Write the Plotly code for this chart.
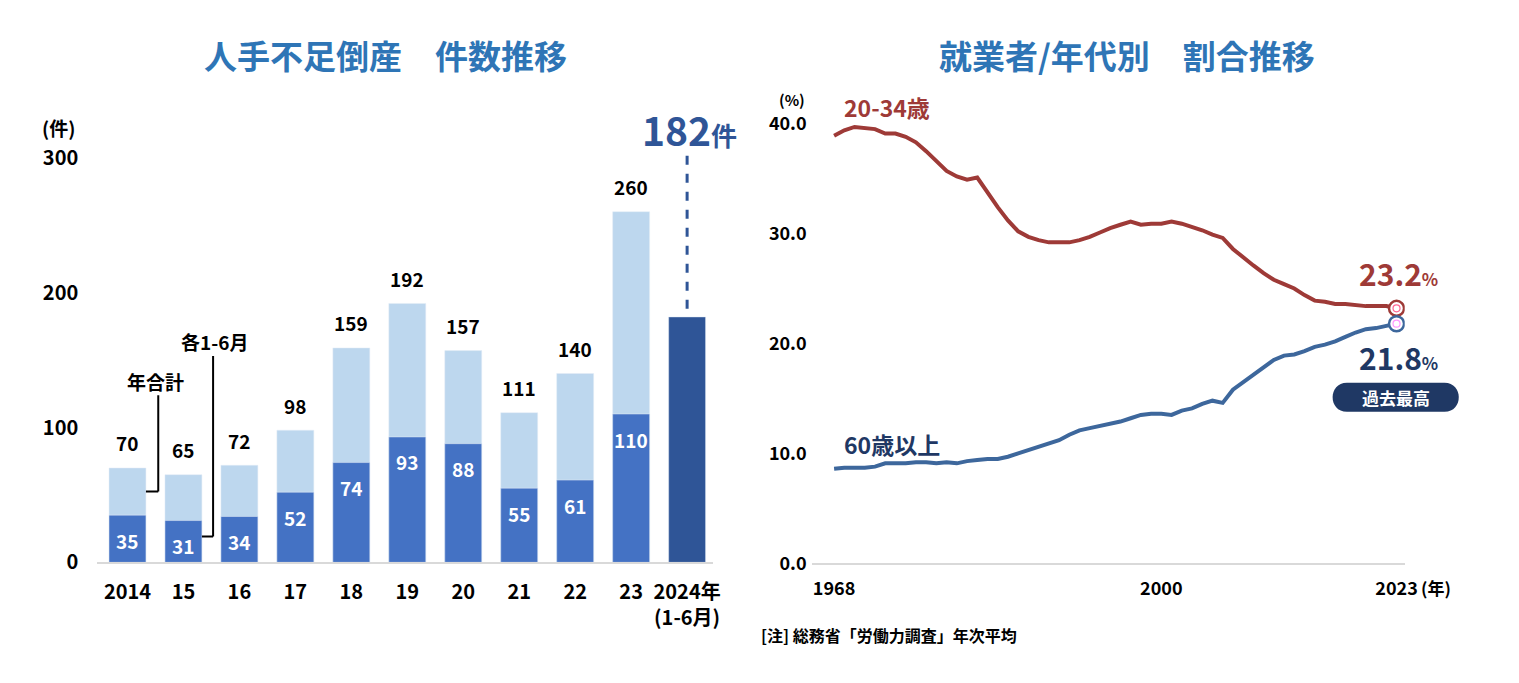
import plotly.graph_objects as go

# ---------------- data ----------------
bar_labels = ["2014", "15", "16", "17", "18", "19", "20", "21", "22", "23", "2024年<br>(1-6月)"]
year_totals = [70, 65, 72, 98, 159, 192, 157, 111, 140, 260]          # 2014-2023 年合計
first_half = [35, 31, 34, 52, 74, 93, 88, 55, 61, 110, 182]           # 各1-6月 (last = 2024)
left_yticks = [0, 100, 200, 300]

years = list(range(1968, 2024))
age_20_34 = [38.9, 39.4, 39.7, 39.6, 39.5, 39.1, 39.1, 38.8, 38.3, 37.5,
             36.6, 35.7, 35.2, 34.9, 35.1, 33.7, 32.4, 31.2, 30.2, 29.7,
             29.4, 29.2, 29.2, 29.2, 29.4, 29.7, 30.1, 30.5, 30.8, 31.1,
             30.8, 30.9, 30.9, 31.1, 30.9, 30.6, 30.3, 29.9, 29.6, 28.6,
             27.8, 27.1, 26.4, 25.8, 25.4, 25.0, 24.4, 23.9, 23.8, 23.6,
             23.6, 23.5, 23.4, 23.4, 23.4, 23.2]
age_60_plus = [8.6, 8.7, 8.7, 8.7, 8.8, 9.1, 9.1, 9.1, 9.2, 9.2,
               9.1, 9.2, 9.1, 9.3, 9.4, 9.5, 9.5, 9.7, 10.0, 10.3,
               10.6, 10.9, 11.2, 11.7, 12.1, 12.3, 12.5, 12.7, 12.9, 13.2,
               13.5, 13.6, 13.6, 13.5, 13.9, 14.1, 14.5, 14.8, 14.6, 15.8,
               16.5, 17.1, 17.9, 18.5, 18.9, 19.0, 19.3, 19.7, 19.9, 20.2,
               20.6, 21.0, 21.3, 21.4, 21.6, 21.8]
right_yticks = [0, 10, 20, 30, 40]
right_xticks = [1968, 2000, 2023]

# ---------------- style ----------------
W, H = 1519, 683
OFF = 8                              # page body margin
SX, SY = W / (W + 2 * OFF), H / (H + 2 * OFF)   # page is fitted into the window
FONT = "Noto Sans CJK JP"
TITLE_BLUE = "#2E75B6"
LIGHT = "#BDD7EE"
MID = "#4472C4"
NAVY_BAR = "#2F5597"
RED = "#9E3A37"
BLUE_LINE = "#3D679C"
NAVY_TXT = "#1F3864"


def px(x):
    return (x / SX - OFF) / W


def py(y):
    return 1 - (y / SY - OFF) / H


def paper_text(x, y, text, size, color, xanchor="center"):
    return dict(xref="paper", yref="paper", x=px(x), y=py(y), xanchor=xanchor, yanchor="middle",
                text=text, showarrow=False, font=dict(size=size, color=color, family=FONT))


fig = go.Figure()

n_hist = len(year_totals)
fig.add_trace(go.Bar(x=bar_labels[:n_hist], y=year_totals, marker_color=LIGHT,
                     width=0.66, xaxis="x", yaxis="y", showlegend=False, hoverinfo="skip"))
fig.add_trace(go.Bar(x=bar_labels[:n_hist], y=first_half[:n_hist], marker_color=MID,
                     width=0.66, xaxis="x", yaxis="y", showlegend=False, hoverinfo="skip"))
fig.add_trace(go.Bar(x=bar_labels[n_hist:], y=first_half[n_hist:], marker_color=NAVY_BAR,
                     width=0.66, xaxis="x", yaxis="y", showlegend=False, hoverinfo="skip"))

fig.add_trace(go.Scatter(x=years, y=age_20_34, mode="lines", line=dict(color=RED, width=4),
                         xaxis="x2", yaxis="y2", showlegend=False, hoverinfo="skip"))
fig.add_trace(go.Scatter(x=years, y=age_60_plus, mode="lines", line=dict(color=BLUE_LINE, width=4),
                         xaxis="x2", yaxis="y2", showlegend=False, hoverinfo="skip"))
for series, col in ((age_20_34, RED), (age_60_plus, BLUE_LINE)):
    fig.add_trace(go.Scatter(x=[years[-1]], y=[series[-1]], mode="markers",
                             marker=dict(symbol="circle", size=15, color="white",
                                         line=dict(color=col, width=2.5)),
                             xaxis="x2", yaxis="y2", showlegend=False, hoverinfo="skip"))
    fig.add_trace(go.Scatter(x=[years[-1]], y=[series[-1]], mode="markers",
                             marker=dict(symbol="circle-open", size=7,
                                         line=dict(color=col, width=1.2)),
                             xaxis="x2", yaxis="y2", showlegend=False, hoverinfo="skip"))

annotations = []
shapes = []

# titles
annotations.append(paper_text(385, 55, "<b>人手不足倒産　件数推移</b>", 33, TITLE_BLUE))
annotations.append(paper_text(1125, 55, "<b>就業者/年代別　割合推移</b>", 33, TITLE_BLUE))

# bar labels
for i, t in enumerate(year_totals):
    annotations.append(dict(xref="x", yref="y", x=i, y=t, yshift=25, text=f"<b>{t}</b>",
                            showarrow=False, font=dict(size=19, color="#000000", family=FONT)))
for i, v in enumerate(first_half[:n_hist]):
    annotations.append(dict(xref="x", yref="y", x=i, y=v, yshift=-25, text=f"<b>{v}</b>",
                            showarrow=False, font=dict(size=19, color="white", family=FONT)))

# 2024 callout
last_i = len(first_half) - 1
shapes.append(dict(type="line", xref="x", yref="y", x0=last_i, x1=last_i, y0=first_half[-1] + 6, y1=306,
                   line=dict(color=NAVY_BAR, width=3, dash="dash")))
annotations.append(dict(xref="x", yref="y", x=last_i, y=321, xshift=2,
                        text=f"<b>{first_half[-1]}<span style='font-size:26px'>件</span></b>",
                        showarrow=False, font=dict(size=39, color=NAVY_BAR, family=FONT)))

# leader lines
mid0 = (year_totals[0] + first_half[0]) / 2
shapes.append(dict(type="line", xref="x", yref="y", x0=0.33, x1=0.55, y0=mid0, y1=mid0,
                   line=dict(color="black", width=2)))
shapes.append(dict(type="line", xref="x", yref="y", x0=0.55, x1=0.55, y0=mid0, y1=124,
                   line=dict(color="black", width=2)))
annotations.append(dict(xref="x", yref="y", x=0.5, y=134, text="<b>年合計</b>", showarrow=False,
                        font=dict(size=19, color="black", family=FONT)))
mid1 = first_half[1] * 0.62
shapes.append(dict(type="line", xref="x", yref="y", x0=1.33, x1=1.53, y0=mid1, y1=mid1,
                   line=dict(color="black", width=2)))
shapes.append(dict(type="line", xref="x", yref="y", x0=1.53, x1=1.53, y0=mid1, y1=153,
                   line=dict(color="black", width=2)))
annotations.append(dict(xref="x", yref="y", x=1.55, y=164, text="<b>各1-6月</b>", showarrow=False,
                        font=dict(size=19, color="black", family=FONT)))

# unit labels
annotations.append(paper_text(58, 127, "<b>(件)</b>", 19, "black"))
annotations.append(paper_text(790, 99, "<b>(%)</b>", 15, "black"))
annotations.append(paper_text(1416, 585, "<b>(年)</b>", 17, "black", xanchor="left"))

# line labels
annotations.append(dict(xref="x2", yref="y2", x=1968.8, y=41.5, xanchor="left", text="<b>20-34歳</b>",
                        showarrow=False, font=dict(size=23, color=RED, family=FONT)))
annotations.append(dict(xref="x2", yref="y2", x=1968.8, y=10.9, xanchor="left", text="<b>60歳以上</b>",
                        showarrow=False, font=dict(size=23, color=NAVY_TXT, family=FONT)))
annotations.append(dict(xref="x2", yref="y2", x=years[-1], y=age_20_34[-1], yshift=35, xshift=2,
                        text=f"<b>{age_20_34[-1]:.1f}<span style='font-size:17px'>%</span></b>",
                        showarrow=False, font=dict(size=30, color=RED, family=FONT)))
annotations.append(dict(xref="x2", yref="y2", x=years[-1], y=age_60_plus[-1], yshift=-33, xshift=2,
                        text=f"<b>{age_60_plus[-1]:.1f}<span style='font-size:17px'>%</span></b>",
                        showarrow=False, font=dict(size=30, color=NAVY_TXT, family=FONT)))

# pill "過去最高"
x0, x1, yt, yb = px(1330), px(1456), py(381), py(410)
rx = 14.5 / W
path = (f"M {x0+rx},{yt} L {x1-rx},{yt} C {x1+rx*0.33},{yt} {x1+rx*0.33},{yb} {x1-rx},{yb} "
        f"L {x0+rx},{yb} C {x0-rx*0.33},{yb} {x0-rx*0.33},{yt} {x0+rx},{yt} Z")
shapes.append(dict(type="path", xref="paper", yref="paper", path=path, fillcolor=NAVY_TXT,
                   line=dict(width=0)))
annotations.append(paper_text(1393, 395.5, "<b>過去最高</b>", 17, "white"))

# footnote
annotations.append(paper_text(758, 632, "<b>[注] 総務省「労働力調査」年次平均</b>", 16, "black", xanchor="left"))

fig.update_layout(
    width=W, height=H, autosize=False,
    margin=dict(l=0, r=0, t=0, b=0),
    paper_bgcolor="white", plot_bgcolor="white",
    barmode="overlay",
    font=dict(family=FONT, color="black"),
    xaxis=dict(domain=[px(97), px(712)], type="category", range=[-0.54, 10.47],
               showgrid=False, zeroline=False, showline=True, linecolor="#D9D9D9", linewidth=1.5,
               ticks="", tickfont=dict(size=20, family=FONT, color="black", weight="bold"),
               ticklabelstandoff=11),
    yaxis=dict(domain=[py(560), py(560 - 330 * 403 / 300)], range=[0, 330],
               tickvals=left_yticks, ticktext=[f"<b>{v}</b>" for v in left_yticks],
               showgrid=False, zeroline=False, showline=False, ticks="",
               tickfont=dict(size=20, family=FONT, color="black"), ticklabelstandoff=18),
    xaxis2=dict(domain=[px(810), px(1402)], range=[1965.8, 2023.8], anchor="y2",
                tickvals=right_xticks, ticktext=[f"<b>{v}</b>" for v in right_xticks],
                showgrid=False, zeroline=False, showline=True, linecolor="#D9D9D9", linewidth=1.5,
                ticks="", tickfont=dict(size=18, family=FONT, color="black"), ticklabelstandoff=8),
    yaxis2=dict(domain=[py(561), py(561 - 42 * 10.95)], range=[0, 42], anchor="x2",
                tickvals=right_yticks, ticktext=[f"<b>{v:.1f}</b>" for v in right_yticks],
                showgrid=False, zeroline=False, showline=False, ticks="",
                tickfont=dict(size=18, family=FONT, color="black"), ticklabelstandoff=4),
    annotations=annotations,
    shapes=shapes,
)

fig.write_html("out.html")
